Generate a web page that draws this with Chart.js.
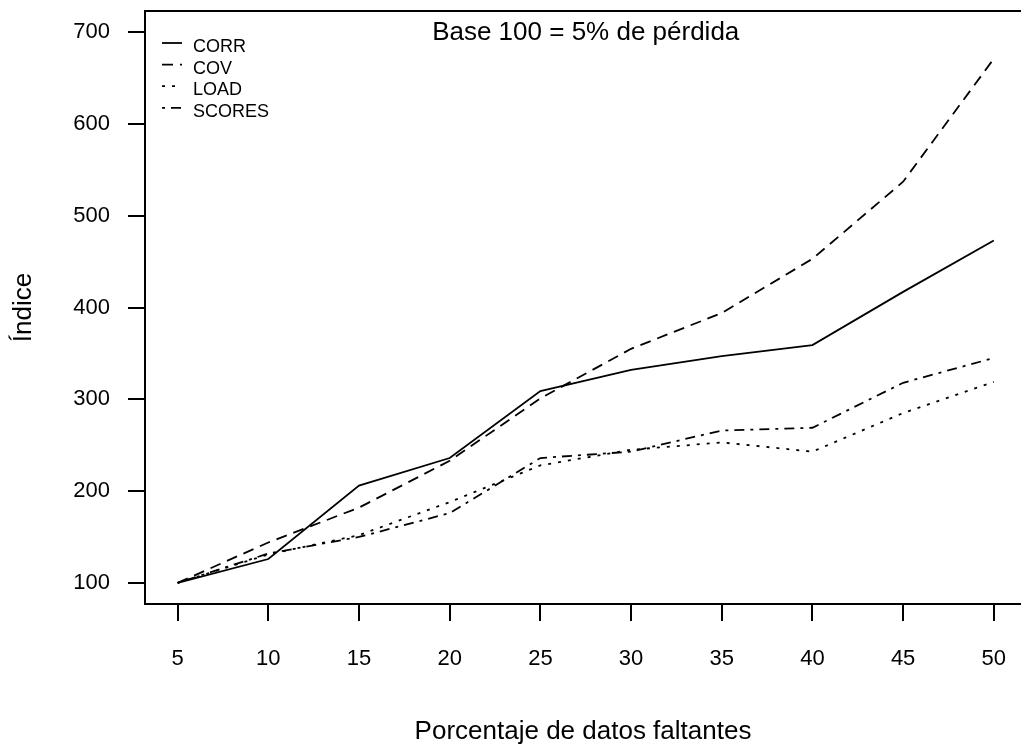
<!DOCTYPE html>
<html>
<head>
<meta charset="utf-8">
<title>Índice por porcentaje de datos faltantes</title>
<script src="https://cdn.jsdelivr.net/npm/chart.js@4.4.1/dist/chart.umd.min.js"></script>
<style>
  html, body { margin: 0; padding: 0; background: #fff; }
  #chart1 { display: block; }
</style>
</head>
<body>
<canvas id="chart1" width="1021" height="745"></canvas>
<script>
// porcentaje de datos faltantes (eje x)
const porcentajes = [5, 10, 15, 20, 25, 30, 35, 40, 45, 50];

// índice, base 100 = 5% de pérdida
const corr   = [100, 126, 206, 236, 309, 332, 347, 359, 417, 473];
const cov    = [100, 144, 182, 233, 301, 355, 394, 453, 537, 671];
const load   = [100, 131, 152, 188, 228, 245, 253, 243, 285, 319];
const scores = [100, 132, 150, 176, 236, 243, 266, 269, 318, 345];

const xTicks = [5, 10, 15, 20, 25, 30, 35, 40, 45, 50];
const yTicks = [100, 200, 300, 400, 500, 600, 700];

const seriesNames = ['CORR', 'COV', 'LOAD', 'SCORES'];
const seriesValues = [corr, cov, load, scores];
const seriesDash = [[], [11, 7], [3, 7], [3, 6, 10, 6]];

const titulo = 'Base 100 = 5% de pérdida';

Chart.defaults.font.family = '"Liberation Sans", Arial, Helvetica, sans-serif';
Chart.defaults.color = '#000';

function points(values) {
  return porcentajes.map((p, i) => ({ x: p, y: values[i] }));
}

// marco superior del gráfico (el izquierdo y el inferior los dan los ejes)
const boxPlugin = {
  id: 'box',
  afterDraw(chart) {
    const ctx = chart.ctx;
    const area = chart.chartArea;
    ctx.save();
    ctx.strokeStyle = '#000';
    ctx.lineWidth = 2;
    ctx.beginPath();
    ctx.moveTo(area.left - 1, area.top);
    ctx.lineTo(chart.width, area.top);
    ctx.stroke();
    ctx.restore();
  }
};

// texto dentro del área, centrado sobre el rango de datos
const innerTitle = {
  id: 'innerTitle',
  afterDraw(chart) {
    const ctx = chart.ctx;
    const xs = chart.scales.x;
    const mid = (porcentajes[0] + porcentajes[porcentajes.length - 1]) / 2;
    ctx.save();
    ctx.font = '26px "Liberation Sans", Arial, sans-serif';
    ctx.fillStyle = '#000';
    ctx.textAlign = 'center';
    ctx.textBaseline = 'middle';
    ctx.fillText(titulo, xs.getPixelForValue(mid), chart.chartArea.top + 22);
    ctx.restore();
  }
};

// leyenda estilo R arriba a la izquierda
const lineLegend = {
  id: 'lineLegend',
  afterDraw(chart) {
    const ctx = chart.ctx;
    const area = chart.chartArea;
    ctx.save();
    ctx.font = '18px "Liberation Sans", Arial, sans-serif';
    ctx.textBaseline = 'middle';
    ctx.fillStyle = '#000';
    chart.data.datasets.forEach((ds, i) => {
      const y = area.top + 36 + i * 21.6;
      ctx.strokeStyle = '#000';
      ctx.lineWidth = 1.8;
      ctx.setLineDash(ds.borderDash || []);
      ctx.beginPath();
      ctx.moveTo(area.left + 17, y - 4);
      ctx.lineTo(area.left + 37, y - 4);
      ctx.stroke();
      ctx.setLineDash([]);
      ctx.fillText(ds.label, area.left + 48, y);
    });
    ctx.restore();
  }
};

const ctx = document.getElementById('chart1').getContext('2d');
const myChart = new Chart(ctx, {
  type: 'line',
  data: {
    datasets: seriesNames.map((name, i) => ({
      label: name,
      data: points(seriesValues[i]),
      borderColor: '#000',
      borderWidth: 1.8,
      borderDash: seriesDash[i],
      pointRadius: 0,
      tension: 0,
      fill: false
    }))
  },
  options: {
    responsive: false,
    animation: false,
    layout: {
      padding: { top: 11, right: 0, bottom: 0, left: 0 }
    },
    plugins: {
      legend: { display: false },
      title: { display: false },
      tooltip: { enabled: false }
    },
    scales: {
      x: {
        type: 'linear',
        min: 3.2,
        max: 51.5,
        afterBuildTicks: (scale) => { scale.ticks = xTicks.map(v => ({ value: v })); },
        afterFit: (scale) => {
          scale.height = 141;
          scale.paddingLeft = 0;
          scale.paddingRight = 0;
        },
        grid: {
          drawOnChartArea: false,
          drawTicks: true,
          tickLength: 17,
          color: '#000',
          lineWidth: 2
        },
        border: { display: true, color: '#000', width: 2 },
        ticks: {
          font: { size: 22 },
          color: '#000',
          padding: 25,
          maxRotation: 0,
          autoSkip: false
        },
        title: {
          display: true,
          text: 'Porcentaje de datos faltantes',
          font: { size: 26, lineHeight: 1 },
          color: '#000',
          padding: { top: 0, bottom: 0 }
        }
      },
      y: {
        type: 'linear',
        min: 77,
        max: 723,
        afterBuildTicks: (scale) => { scale.ticks = yTicks.map(v => ({ value: v })); },
        afterFit: (scale) => {
          scale.width = 145;
          scale.paddingTop = 0;
          scale.paddingBottom = 0;
        },
        grid: {
          drawOnChartArea: false,
          drawTicks: true,
          tickLength: 17,
          color: '#000',
          lineWidth: 2
        },
        border: { display: true, color: '#000', width: 2 },
        ticks: {
          font: { size: 22 },
          color: '#000',
          padding: 18,
          autoSkip: false
        },
        title: {
          display: true,
          text: 'Índice',
          font: { size: 26, lineHeight: 1 },
          color: '#000',
          padding: { top: 11, bottom: 0 }
        }
      }
    }
  },
  plugins: [boxPlugin, innerTitle, lineLegend]
});
</script>
</body>
</html>
